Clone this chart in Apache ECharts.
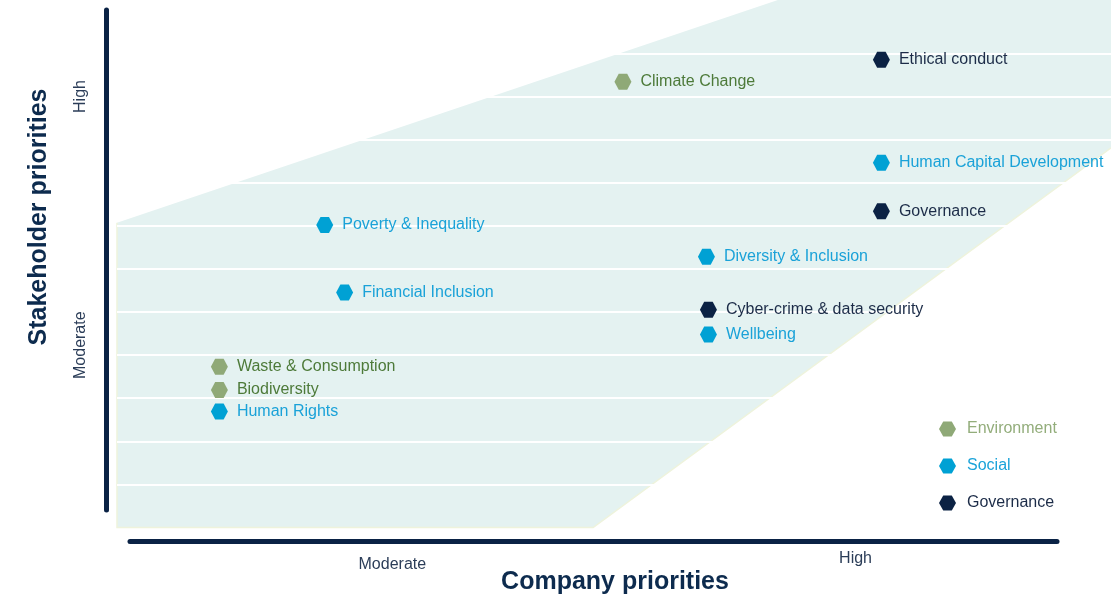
<!DOCTYPE html>
<html>
<head>
<meta charset="utf-8">
<title>Materiality matrix</title>
<script src="https://cdn.jsdelivr.net/npm/echarts@6/dist/echarts.min.js"></script>
<style>
  html, body { margin: 0; padding: 0; background: #fff; }
  #chart { width: 1111px; height: 596px; }
</style>
</head>
<body>
<div id="chart"></div>
<script>
// company priority (x, 0-10) and stakeholder priority (y, 0-12) per topic
var envNames = ['Climate Change', 'Waste & Consumption', 'Biodiversity'];
var envCompany = [5.09, 1.03, 1.03];
var envStakeholder = [10.34, 3.73, 3.19];

var socNames = ['Human Capital Development', 'Poverty & Inequality', 'Diversity & Inclusion',
  'Financial Inclusion', 'Wellbeing', 'Human Rights'];
var socCompany = [7.69, 2.09, 5.93, 2.29, 5.95, 1.03];
var socStakeholder = [8.46, 7.02, 6.28, 5.45, 4.48, 2.69];

var govNames = ['Ethical conduct', 'Governance', 'Cyber-crime & data security'];
var govCompany = [7.69, 7.69, 5.95];
var govStakeholder = [10.85, 7.34, 5.05];

// shaded zone outline
var zoneCompany = [0, 0, 4.79, 10, 10, 6.65];
var zoneStakeholder = [7.07, 0, 0, 8.81, 12.24, 12.24];

// axis level labels
var companyLevels = ['Moderate', 'High'];
var companyLevelValues = [2.77, 7.43];
var stakeholderLevels = ['Moderate', 'High'];
var stakeholderLevelValues = [4.23, 10];

var hex = 'path://M0,50 L25,6 L75,6 L100,50 L75,94 L25,94 Z';
var font = '"Liberation Sans", Arial, sans-serif';
var navy = '#0a2245';

function pts(names, xs, ys) {
  return names.map(function (n, i) { return { name: n, value: [xs[i], ys[i]] }; });
}

function topicSeries(name, names, xs, ys, color, textColor) {
  return {
    name: name,
    type: 'scatter',
    xAxisIndex: 0,
    yAxisIndex: 0,
    z: 5,
    symbol: hex,
    symbolSize: [17, 16],
    itemStyle: { color: color, opacity: 1 },
    label: {
      show: true,
      position: 'right',
      distance: 9,
      formatter: '{b}',
      color: textColor,
      fontSize: 16,
      fontFamily: font
    },
    emphasis: { disabled: true },
    data: pts(names, xs, ys)
  };
}

var chart = echarts.init(document.getElementById('chart'));

var option = {
  backgroundColor: '#fff',
  animation: false,
  textStyle: { fontFamily: font },
  grid: [
    { left: 117, right: 0, top: 10.3, bottom: 68.5 },
    { left: 130, right: 54, bottom: 53.5, height: 10 },
    { left: 106, top: 10, bottom: 86, width: 10 }
  ],
  legend: {
    orient: 'vertical',
    left: 934,
    top: 416,
    itemWidth: 17,
    itemHeight: 16,
    itemGap: 21,
    icon: hex,
    selectedMode: false,
    textStyle: { fontSize: 16, fontFamily: font, padding: [0, 0, 0, 6] },
    data: [
      { name: 'Environment', textStyle: { color: '#93ad7b' } },
      { name: 'Social', textStyle: { color: '#1ba3d9' } },
      { name: 'Governance', textStyle: { color: '#1c2c48' } }
    ]
  },
  xAxis: [
    {
      gridIndex: 0, type: 'value', min: 0, max: 10,
      axisLine: { show: false }, axisTick: { show: false }, splitLine: { show: false },
      axisLabel: {
        customValues: companyLevelValues,
        margin: 23,
        formatter: function (v) {
          var i = companyLevelValues.indexOf(v);
          return i === 0 ? '{m|' + companyLevels[i] + '}' : '{h|' + companyLevels[i] + '}';
        },
        rich: {
          m: { fontSize: 16, color: '#2b3d58', fontFamily: font, padding: [6, 0, 0, 0] },
          h: { fontSize: 16, color: '#2b3d58', fontFamily: font }
        }
      }
    },
    {
      gridIndex: 1, type: 'value', min: 0, max: 1,
      axisLine: { show: true, lineStyle: { color: navy, width: 5 } },
      axisTick: { show: false }, axisLabel: { show: false }, splitLine: { show: false },
      name: 'Company priorities',
      nameLocation: 'middle',
      nameGap: 29,
      nameTextStyle: { fontSize: 25, fontWeight: 'bold', color: '#0d2b4e', fontFamily: font, padding: [0, 0, 0, 43] }
    },
    { gridIndex: 2, type: 'value', show: false }
  ],
  yAxis: [
    {
      gridIndex: 0, type: 'value', min: 0, max: 12, interval: 1, z: 1,
      axisLine: { show: false }, axisTick: { show: false },
      splitLine: { show: true, showMinLine: false, showMaxLine: false, lineStyle: { color: '#ffffff', width: 2 } },
      axisLabel: {
        customValues: stakeholderLevelValues,
        rotate: 90,
        margin: 28,
        color: '#2b3d58',
        fontSize: 16,
        fontFamily: font,
        formatter: function (v) {
          return stakeholderLevels[stakeholderLevelValues.indexOf(v)];
        }
      }
    },
    { gridIndex: 1, type: 'value', show: false },
    {
      gridIndex: 2, type: 'value', min: 0, max: 1, position: 'left',
      axisLine: { show: true, lineStyle: { color: navy, width: 5 } },
      axisTick: { show: false }, axisLabel: { show: false }, splitLine: { show: false },
      name: 'Stakeholder priorities',
      nameLocation: 'middle',
      nameRotate: 90,
      nameGap: 54,
      nameTextStyle: { fontSize: 25, fontWeight: 'bold', color: '#0d2b4e', fontFamily: font, padding: [0, 0, 0, 86] }
    }
  ],
  series: [
    {
      type: 'custom',
      xAxisIndex: 0,
      yAxisIndex: 0,
      z: 0,
      silent: true,
      clip: false,
      data: zoneCompany.map(function (x, i) { return [x, zoneStakeholder[i]]; }),
      renderItem: function (params, api) {
        if (params.dataIndex !== 0) return;
        var points = zoneCompany.map(function (x, i) { return api.coord([x, zoneStakeholder[i]]); });
        return {
          type: 'group',
          children: [
            {
              type: 'polygon',
              shape: { points: points },
              style: { fill: '#e4f2f1' }
            },
            {
              type: 'polyline',
              shape: { points: points.slice(0, 4) },
              style: { fill: null, stroke: '#eef3dc', lineWidth: 1.5 }
            }
          ]
        };
      }
    },
    topicSeries('Environment', envNames, envCompany, envStakeholder, '#8fa977', '#4d7a39'),
    topicSeries('Social', socNames, socCompany, socStakeholder, '#00a1d4', '#1aa2d8'),
    topicSeries('Governance', govNames, govCompany, govStakeholder, '#0b2244', '#1c2c48')
  ]
};

chart.setOption(option);
</script>
</body>
</html>
